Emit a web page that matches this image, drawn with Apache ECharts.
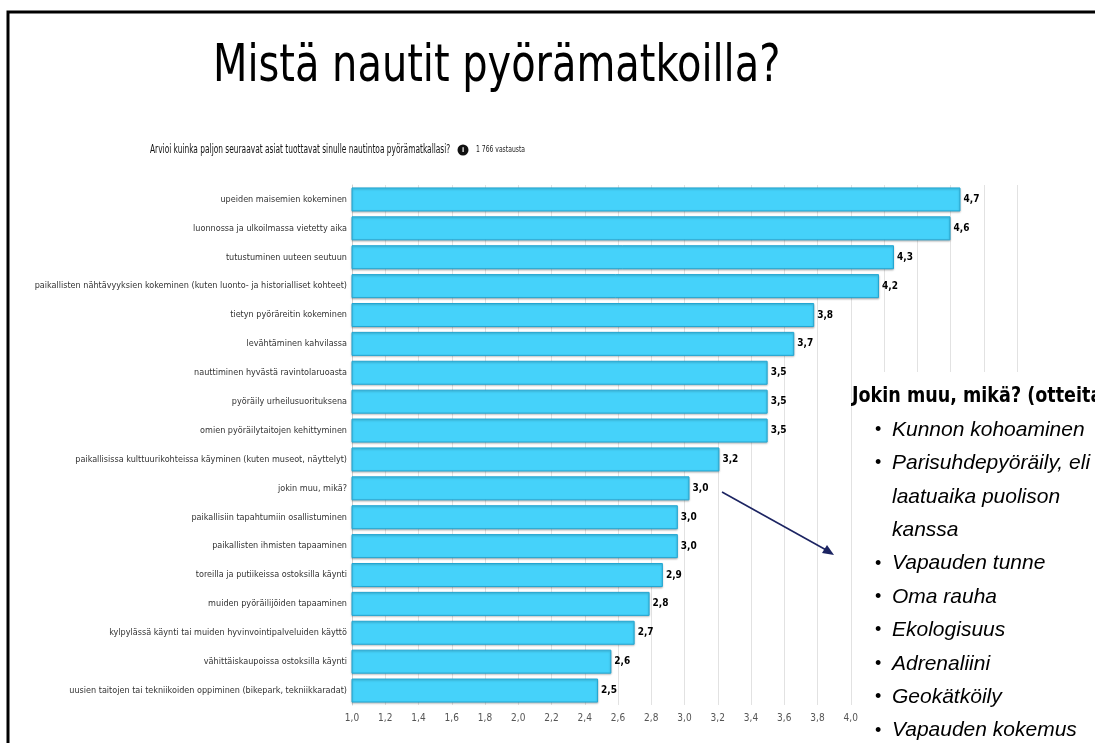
<!DOCTYPE html>
<html>
<head>
<meta charset="utf-8">
<script src="https://cdn.jsdelivr.net/npm/echarts@6/dist/echarts.min.js"></script>
<style>
  html, body { margin: 0; padding: 0; background: #fff; }
  #chart { width: 1095px; height: 743px; }
</style>
</head>
<body>
<div id="chart"></div>
<script>
const categories = [
  'upeiden maisemien kokeminen',
  'luonnossa ja ulkoilmassa vietetty aika',
  'tutustuminen uuteen seutuun',
  'paikallisten nähtävyyksien kokeminen (kuten luonto- ja historialliset kohteet)',
  'tietyn pyöräreitin kokeminen',
  'levähtäminen kahvilassa',
  'nauttiminen hyvästä ravintolaruoasta',
  'pyöräily urheilusuorituksena',
  'omien pyöräilytaitojen kehittyminen',
  'paikallisissa kulttuurikohteissa käyminen (kuten museot, näyttelyt)',
  'jokin muu, mikä?',
  'paikallisiin tapahtumiin osallistuminen',
  'paikallisten ihmisten tapaaminen',
  'toreilla ja putiikeissa ostoksilla käynti',
  'muiden pyöräilijöiden tapaaminen',
  'kylpylässä käynti tai muiden hyvinvointipalveluiden käyttö',
  'vähittäiskaupoissa ostoksilla käynti',
  'uusien taitojen tai tekniikoiden oppiminen (bikepark, tekniikkaradat)'
]
const values = [4.66, 4.60, 4.26, 4.17, 3.78, 3.66, 3.50, 3.50, 3.50, 3.21, 3.03, 2.96, 2.96, 2.87, 2.79, 2.70, 2.56, 2.48]

const xMin = 1.0
const xMax = 5.0
const xStep = 0.2

const titleText = 'Mistä nautit pyörämatkoilla?'
const questionText = 'Arvioi kuinka paljon seuraavat asiat tuottavat sinulle nautintoa pyörämatkallasi?'
const answerCount = '1 766 vastausta'

const otherHeader = 'Jokin muu, mikä? (otteita)'
// [bullet?, text]
const otherAnswers = [
  [true, 'Kunnon kohoaminen'],
  [true, 'Parisuhdepyöräily, eli'],
  [false, 'laatuaika puolison'],
  [false, 'kanssa'],
  [true, 'Vapauden tunne'],
  [true, 'Oma rauha'],
  [true, 'Ekologisuus'],
  [true, 'Adrenaliini'],
  [true, 'Geokätköily'],
  [true, 'Vapauden kokemus']
]

const narrow = '"Liberation Sans Narrow", "DejaVu Sans Condensed", sans-serif'
const comma = (v) => v.toFixed(1).replace('.', ',')

const myChart = echarts.init(document.getElementById('chart'))

// texts above the chart (squeezed a bit like the slide)
const headItems = [
  {
    type: 'text', x: 213, y: 68, scaleX: 0.87,
    style: { text: titleText, font: '51px ' + narrow, fill: '#000', verticalAlign: 'middle' }
  },
  {
    type: 'text', x: 150, y: 150, scaleX: 0.69,
    style: { text: questionText, font: '12px ' + narrow, fill: '#111', verticalAlign: 'middle' }
  },
  {
    type: 'circle',
    shape: { cx: 463, cy: 150, r: 5.5 },
    style: { fill: '#111' }
  },
  {
    type: 'text', x: 463, y: 150,
    style: { text: 'i', font: 'bold 8px sans-serif', fill: '#fff', align: 'center', verticalAlign: 'middle' }
  },
  {
    type: 'text', x: 476, y: 150, scaleX: 0.75,
    style: { text: answerCount, font: '9px ' + narrow, fill: '#222', verticalAlign: 'middle' }
  }
]

// text box on the right + arrow
const boxItems = []
boxItems.push({
  type: 'rect',
  shape: { x: 860, y: 372, width: 260, height: 400 },
  style: { fill: '#fff' },
  z: 100
})
boxItems.push({
  type: 'text',
  x: 852, y: 397, scaleX: 0.93,
  style: { text: otherHeader, font: 'bold 21px ' + narrow, fill: '#000', verticalAlign: 'middle' },
  z: 101
})
otherAnswers.forEach((row, i) => {
  const y = 430 + i * 33.4
  if (row[0]) {
    boxItems.push({
      type: 'text', x: 875, y: y,
      style: { text: '•', font: '18px "Liberation Sans", sans-serif', fill: '#000', verticalAlign: 'middle' },
      z: 101
    })
  }
  boxItems.push({
    type: 'text', x: 892, y: y,
    style: { text: row[1], font: 'italic 21px "Liberation Sans", sans-serif', fill: '#000', verticalAlign: 'middle' },
    z: 101
  })
})

const option = {
  animation: false,
  textStyle: { fontFamily: narrow },
  grid: {
    left: 352,
    right: 78,
    top: 185,
    bottom: 38,
    containLabel: false
  },
  xAxis: {
    type: 'value',
    min: xMin,
    max: xMax,
    interval: xStep,
    axisLine: { show: false },
    axisTick: { show: false },
    axisLabel: {
      color: '#555',
      fontSize: 10,
      margin: 8,
      formatter: (v) => comma(v)
    },
    splitLine: { show: true, lineStyle: { color: '#e2e2e2', width: 1 } }
  },
  yAxis: {
    type: 'category',
    inverse: true,
    data: categories,
    axisLine: { show: true, lineStyle: { color: '#cfcfcf' } },
    axisTick: { show: false },
    axisLabel: { color: '#333', fontSize: 9, margin: 5 }
  },
  series: [
    {
      type: 'bar',
      data: values,
      barWidth: 24,
      itemStyle: {
        color: '#45d2fa',
        borderColor: '#22a6d2',
        borderWidth: 1,
        shadowColor: 'rgba(0,0,0,0.25)',
        shadowBlur: 2,
        shadowOffsetY: 1
      },
      label: {
        show: true,
        position: 'right',
        distance: 3,
        color: '#000',
        fontSize: 10,
        fontWeight: 'bold',
        formatter: (p) => comma(p.value)
      }
    }
  ],
  graphic: [
    // frame
    {
      type: 'rect',
      shape: { x: 8, y: 12, width: 1120, height: 800 },
      style: { fill: 'none', stroke: '#000', lineWidth: 3 },
      z: 120
    },
    ...headItems,
    // arrow
    {
      type: 'line',
      shape: { x1: 722, y1: 492, x2: 828, y2: 551 },
      style: { stroke: '#1c2462', lineWidth: 1.6 },
      z: 60
    },
    {
      type: 'polygon',
      shape: { points: [[834, 555], [822, 553], [827, 545]] },
      style: { fill: '#1c2462' },
      z: 60
    },
    ...boxItems
  ]
}

myChart.setOption(option)
</script>
</body>
</html>
